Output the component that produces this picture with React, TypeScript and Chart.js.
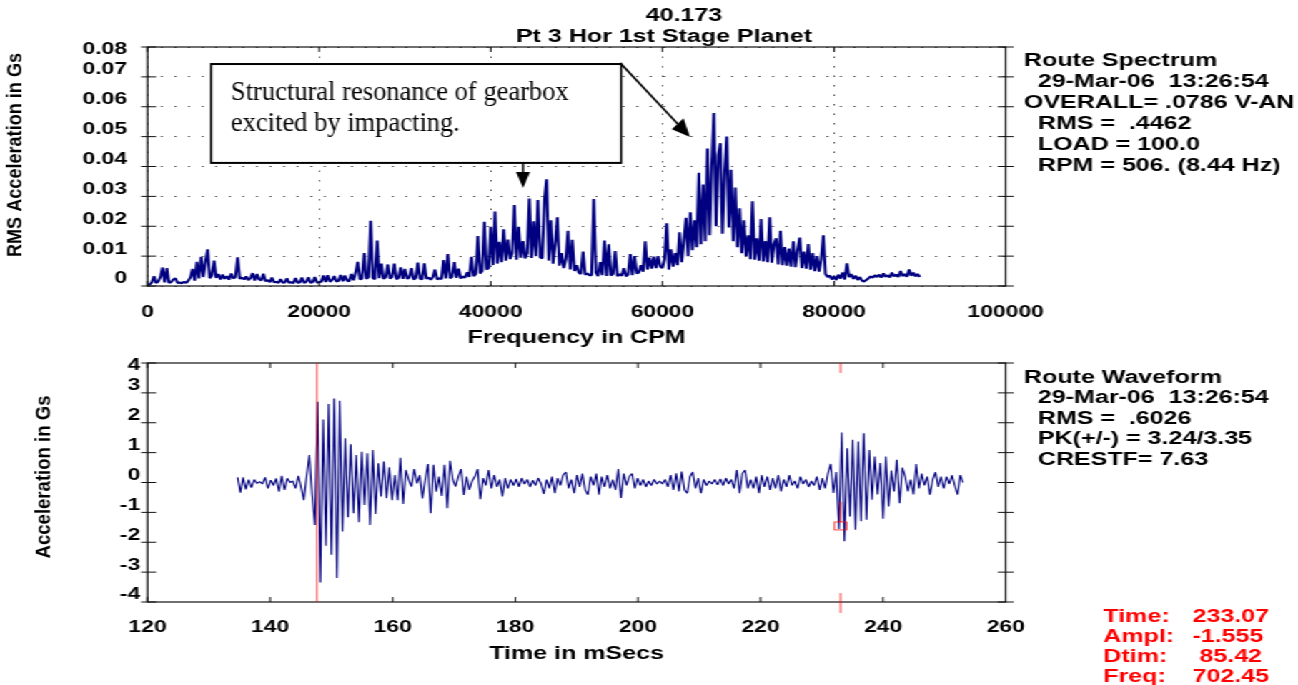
import React, { useEffect, useRef } from "react";
import { Chart, registerables } from "chart.js";

Chart.register(...registerables);

// ---------------- data ----------------
const spectrumStartCpm = 0;
const spectrumStepCpm = 250;
const spectrumRmsG = [
  0.0002, 0.0005, 0.0012, 0.0033, 0.0010, 0.0015, 0.0030, 0.0062, 0.0012, 0.0060, 0.0010, 0.0013, 0.0022, 0.0026, 0.0010, 0.0012, 0.0009, 0.0014, 0.0010, 0.0018,
  0.0029, 0.0057, 0.0018, 0.0081, 0.0025, 0.0098, 0.0030, 0.0081, 0.0123, 0.0026, 0.0035, 0.0085, 0.0027, 0.0040, 0.0022, 0.0038, 0.0024, 0.0033, 0.0021, 0.0042,
  0.0025, 0.0030, 0.0096, 0.0024, 0.0028, 0.0022, 0.0032, 0.0020, 0.0026, 0.0043, 0.0018, 0.0040, 0.0022, 0.0019, 0.0041, 0.0016, 0.0020, 0.0013, 0.0028, 0.0012,
  0.0014, 0.0010, 0.0023, 0.0011, 0.0012, 0.0026, 0.0010, 0.0013, 0.0009, 0.0027, 0.0011, 0.0012, 0.0028, 0.0010, 0.0014, 0.0029, 0.0011, 0.0013, 0.0030, 0.0012,
  0.0012, 0.0015, 0.0035, 0.0013, 0.0036, 0.0014, 0.0020, 0.0033, 0.0015, 0.0017, 0.0037, 0.0016, 0.0035, 0.0018, 0.0016, 0.0040, 0.0019, 0.0045, 0.0081, 0.0022,
  0.0025, 0.0110, 0.0024, 0.0030, 0.0218, 0.0027, 0.0023, 0.0152, 0.0026, 0.0075, 0.0024, 0.0029, 0.0072, 0.0025, 0.0030, 0.0075, 0.0023, 0.0027, 0.0062, 0.0024,
  0.0057, 0.0024, 0.0028, 0.0060, 0.0022, 0.0026, 0.0078, 0.0025, 0.0022, 0.0076, 0.0024, 0.0028, 0.0021, 0.0030, 0.0055, 0.0022, 0.0026, 0.0023, 0.0087, 0.0025,
  0.0107, 0.0026, 0.0031, 0.0080, 0.0027, 0.0058, 0.0025, 0.0032, 0.0028, 0.0046, 0.0030, 0.0098, 0.0033, 0.0040, 0.0167, 0.0042, 0.0050, 0.0215, 0.0055, 0.0060,
  0.0198, 0.0070, 0.0249, 0.0075, 0.0148, 0.0080, 0.0190, 0.0085, 0.0155, 0.0090, 0.0110, 0.0271, 0.0088, 0.0198, 0.0095, 0.0150, 0.0092, 0.0110, 0.0293, 0.0094,
  0.0217, 0.0100, 0.0288, 0.0096, 0.0092, 0.0288, 0.0357, 0.0085, 0.0220, 0.0075, 0.0140, 0.0230, 0.0068, 0.0110, 0.0060, 0.0090, 0.0185, 0.0055, 0.0155, 0.0050,
  0.0070, 0.0045, 0.0040, 0.0115, 0.0038, 0.0042, 0.0036, 0.0036, 0.0291, 0.0045, 0.0033, 0.0080, 0.0036, 0.0152, 0.0034, 0.0140, 0.0035, 0.0040, 0.0117, 0.0033,
  0.0040, 0.0034, 0.0060, 0.0032, 0.0038, 0.0107, 0.0036, 0.0100, 0.0042, 0.0045, 0.0070, 0.0048, 0.0150, 0.0055, 0.0095, 0.0058, 0.0098, 0.0060, 0.0100, 0.0065,
  0.0060, 0.0090, 0.0210, 0.0055, 0.0123, 0.0065, 0.0110, 0.0070, 0.0180, 0.0080, 0.0150, 0.0228, 0.0100, 0.0247, 0.0120, 0.0220, 0.0130, 0.0379, 0.0140, 0.0340,
  0.0150, 0.0460, 0.0170, 0.0400, 0.0579, 0.0200, 0.0438, 0.0478, 0.0175, 0.0380, 0.0500, 0.0196, 0.0389, 0.0150, 0.0330, 0.0130, 0.0260, 0.0110, 0.0220, 0.0100,
  0.0170, 0.0090, 0.0284, 0.0088, 0.0160, 0.0085, 0.0224, 0.0082, 0.0150, 0.0080, 0.0230, 0.0078, 0.0140, 0.0160, 0.0072, 0.0185, 0.0070, 0.0130, 0.0068, 0.0125,
  0.0065, 0.0150, 0.0063, 0.0120, 0.0162, 0.0060, 0.0115, 0.0058, 0.0140, 0.0055, 0.0110, 0.0050, 0.0100, 0.0048, 0.0090, 0.0170, 0.0040, 0.0030, 0.0035, 0.0022,
  0.0032, 0.0020, 0.0038, 0.0025, 0.0045, 0.0022, 0.0076, 0.0030, 0.0040, 0.0024, 0.0035, 0.0020, 0.0030, 0.0018, 0.0015, 0.0020, 0.0025, 0.0032, 0.0028, 0.0036,
  0.0030, 0.0038, 0.0028, 0.0042, 0.0031, 0.0036, 0.0029, 0.0045, 0.0032, 0.0038, 0.0030, 0.0050, 0.0033, 0.0040, 0.0031, 0.0055, 0.0034, 0.0045, 0.0032, 0.0040, 0.0030,
];

const waveformStartMs = 134.7;
const waveformStepMs = 0.45;
const waveformG = [
  0.17, -0.34, 0.17, -0.23, 0.10, -0.17, 0.10, -0.03, 0.03, -0.05, 0.17, -0.20, 0.08, -0.10, 0.14, -0.31, 0.22, -0.25, 0.14, 0.00,
  0.05, -0.20, 0.22, -0.15, -0.59, 0.20, 0.92, -0.40, -1.42, 2.70, -3.35, 2.11, -2.12, 2.63, -2.42, 2.81, -3.20, 2.74, -1.64, 1.48,
  -1.16, 1.28, -1.03, 0.92, -1.33, 1.03, -0.75, 0.98, -1.42, 1.09, -1.05, 0.64, -0.47, 0.70, -0.53, 0.51, -0.59, 0.25, -0.59, 0.83,
  -0.72, 0.42, 0.10, -0.14, 0.45, -0.03, 0.25, -0.53, 0.10, 0.62, -1.03, 0.59, -0.31, 0.20, -0.45, 0.59, -0.86, 0.73, 0.10, -0.14,
  0.20, 0.45, -0.42, 0.20, -0.25, 0.05, 0.20, 0.45, -0.56, 0.15, -0.10, 0.42, -0.20, 0.25, -0.15, 0.10, -0.47, 0.15, -0.20, 0.10,
  -0.10, 0.12, -0.15, 0.15, -0.05, 0.10, -0.15, 0.08, -0.10, 0.15, -0.05, -0.38, 0.10, -0.20, 0.20, -0.36, 0.15, -0.10, 0.25, 0.35,
  -0.20, 0.10, -0.36, 0.25, -0.15, 0.30, -0.25, -0.41, 0.20, -0.10, 0.30, -0.41, 0.20, -0.15, 0.25, -0.20, 0.10, -0.25, 0.45, -0.52,
  0.30, -0.10, 0.20, 0.30, -0.20, 0.15, -0.10, 0.10, -0.15, 0.05, -0.10, 0.10, -0.05, 0.05, -0.05, 0.10, -0.15, 0.25, -0.25, 0.31,
  -0.30, 0.37, -0.25, -0.36, 0.20, 0.35, -0.20, 0.15, -0.36, 0.10, -0.10, 0.05, -0.05, 0.10, -0.08, 0.12, -0.10, 0.15, -0.05, 0.10,
  -0.20, 0.42, -0.36, 0.30, 0.42, -0.20, 0.10, -0.20, 0.20, -0.36, 0.25, -0.15, 0.20, -0.25, 0.15, -0.20, 0.25, -0.30, 0.10, -0.15,
  0.25, -0.10, 0.05, -0.20, 0.20, -0.05, 0.10, -0.15, 0.05, -0.10, 0.20, -0.25, 0.15, -0.20, 0.30, 0.62, -0.35, 0.35, -1.56, 1.67,
  -1.97, 1.15, -1.14, 1.43, -1.58, 1.37, -1.30, 1.65, -1.25, 1.09, -0.58, 0.87, -0.40, 0.65, -1.21, 0.87, -0.80, 0.40, -0.30, 0.76,
  -0.69, 0.50, 0.20, -0.30, 0.10, -0.40, 0.62, -0.20, 0.30, -0.10, 0.20, -0.41, 0.10, 0.35, -0.15, 0.20, -0.20, 0.20, -0.05, 0.25,
  -0.10, -0.41, 0.25, 0.00,
];

const freqTicksCpm = [0, 20000, 40000, 60000, 80000, 100000];
const rmsTicksG = [0, 0.01, 0.02, 0.03, 0.04, 0.05, 0.06, 0.07, 0.08];
const timeTicksMs = [120, 140, 160, 180, 200, 220, 240, 260];
const accelTicksG = [-4, -3, -2, -1, 0, 1, 2, 3, 4];

const plotTitle = ["40.173", "Pt 3 Hor 1st Stage Planet"];
const spectrumInfo = [
  "Route Spectrum",
  "  29-Mar-06  13:26:54",
  "OVERALL= .0786 V-AN",
  "  RMS =  .4462",
  "  LOAD = 100.0",
  "  RPM = 506. (8.44 Hz)",
];
const waveformInfo = [
  "Route Waveform",
  "  29-Mar-06  13:26:54",
  "  RMS =  .6026",
  "  PK(+/-) = 3.24/3.35",
  "  CRESTF= 7.63",
];
const cursorLabels = ["Time:", "Ampl:", "Dtim:", "Freq:"];
const cursorValues = ["233.07", "-1.555", " 85.42", "702.45"];
const cursorTimeMs = 233.07;
const cursorAmplG = -1.555;
const cursorDtimMs = 85.42;
const annotationLines = ["Structural resonance of gearbox", "excited by impacting."];

// ---------------- layout / style ----------------
const CW = 908;
const CH = 685;
const S = 1298 / CW; // the picture is stretched horizontally
const SANS = '"Liberation Sans", Arial, sans-serif';
const SERIF = '"Liberation Serif", "Times New Roman", serif';
const NAVY = "#000080";
const annotationLayout = {
  box: { cpm0: 7400, g0: 0.0743, cpm1: 55200, g1: 0.0412 },
  downTip: { cpm: 43760, g: 0.0328 },
  diagTip: { cpm: 63220, g: 0.0499 },
};

function drawFrame(ctx: any, a: any, xs: any, ys: any) {
  ctx.save();
  ctx.strokeStyle = "#111";
  ctx.lineWidth = 1.2;
  ctx.strokeRect(a.left, a.top, a.right - a.left, a.bottom - a.top);
  ctx.lineWidth = 1;
  ctx.beginPath();
  xs.ticks.forEach((t: any) => {
    const px = xs.getPixelForValue(t.value);
    ctx.moveTo(px, a.bottom);
    ctx.lineTo(px, a.bottom - 5);
    ctx.moveTo(px, a.top);
    ctx.lineTo(px, a.top + 5);
  });
  ys.ticks.forEach((t: any) => {
    const py = ys.getPixelForValue(t.value);
    ctx.moveTo(a.left - 4.5, py);
    ctx.lineTo(a.left + 6, py);
    ctx.moveTo(a.right - 5.6, py);
    ctx.lineTo(a.right + 5.6, py);
  });
  ctx.stroke();
  ctx.restore();
}

function drawRotatedTitle(ctx: any, text: string, pageX: number, centerY: number, maxW: number) {
  ctx.save();
  ctx.scale(1 / S, 1);
  ctx.translate(pageX, centerY);
  ctx.rotate(-Math.PI / 2);
  ctx.font = `bold 21px ${SANS}`;
  ctx.textAlign = "center";
  ctx.textBaseline = "middle";
  ctx.fillStyle = "#000";
  ctx.fillText(text, 0, 0, maxW);
  ctx.restore();
}

function drawArrow(ctx: any, x1: number, y1: number, x2: number, y2: number, len: number, half: number) {
  const ang = Math.atan2(y2 - y1, x2 - x1);
  const bx = x2 - len * Math.cos(ang);
  const by = y2 - len * Math.sin(ang);
  ctx.beginPath();
  ctx.moveTo(x1, y1);
  ctx.lineTo(bx, by);
  ctx.stroke();
  ctx.beginPath();
  ctx.moveTo(x2, y2);
  ctx.lineTo(bx + half * Math.sin(ang), by - half * Math.cos(ang));
  ctx.lineTo(bx - half * Math.sin(ang), by + half * Math.cos(ang));
  ctx.closePath();
  ctx.fill();
}

const topDecor = {
  id: "topDecor",
  afterDraw(chart: any) {
    const { ctx, chartArea: a } = chart;
    const xs = chart.scales.x;
    const ys = chart.scales.y;
    drawFrame(ctx, a, xs, ys);

    ctx.save();
    ctx.fillStyle = "#000";
    ctx.font = `bold 17.5px ${SANS}`;
    ctx.textBaseline = "alphabetic";
    ctx.textAlign = "center";
    ctx.fillText(plotTitle[0], 684 / S, 20.7);
    ctx.fillText(plotTitle[1], 664 / S, 41.7);
    ctx.textAlign = "left";
    spectrumInfo.forEach((line, i) => ctx.fillText(line, 1024 / S, 66 + 21 * i));
    ctx.restore();

    drawRotatedTitle(ctx, "RMS Acceleration in Gs", 15.8, 155, 204);

    // annotation (not stretched): draw in page coordinates
    const L = annotationLayout;
    const px = (cpm: number) => xs.getPixelForValue(cpm) * S;
    const py = (g: number) => ys.getPixelForValue(g);
    const bx0 = px(L.box.cpm0), by0 = py(L.box.g0), bx1 = px(L.box.cpm1), by1 = py(L.box.g1);
    ctx.save();
    ctx.scale(1 / S, 1);
    ctx.fillStyle = "#fff";
    ctx.fillRect(bx0, by0, bx1 - bx0, by1 - by0);
    ctx.strokeStyle = "#000";
    ctx.lineWidth = 2;
    ctx.strokeRect(bx0, by0, bx1 - bx0, by1 - by0);
    ctx.fillStyle = "#000";
    ctx.font = `26.5px ${SERIF}`;
    ctx.textAlign = "left";
    ctx.textBaseline = "alphabetic";
    ctx.fillText(annotationLines[0], bx0 + 20, by0 + 35.5);
    ctx.fillText(annotationLines[1], bx0 + 20, by0 + 66.5);
    ctx.lineWidth = 2;
    const dTipX = px(L.downTip.cpm), dTipY = py(L.downTip.g);
    drawArrow(ctx, dTipX, by1, dTipX, dTipY, 16, 7);
    drawArrow(ctx, bx1 - 1, by0 - 1, px(L.diagTip.cpm), py(L.diagTip.g), 18, 8);
    ctx.restore();
  },
};

const bottomDecor = {
  id: "bottomDecor",
  afterDraw(chart: any) {
    const { ctx, chartArea: a } = chart;
    const xs = chart.scales.x;
    const ys = chart.scales.y;
    drawFrame(ctx, a, xs, ys);

    // cursors
    ctx.save();
    ctx.strokeStyle = "#ff0000";
    ctx.lineWidth = 0.75;
    const x1 = xs.getPixelForValue(cursorTimeMs - cursorDtimMs);
    const x2 = xs.getPixelForValue(cursorTimeMs);
    const ya = ys.getPixelForValue(cursorAmplG);
    ctx.beginPath();
    ctx.moveTo(x1, a.top);
    ctx.lineTo(x1, a.bottom);
    ctx.moveTo(x2, a.top);
    ctx.lineTo(x2, a.top + 10);
    ctx.moveTo(x2, a.bottom - 9);
    ctx.lineTo(x2, a.bottom + 11);
    ctx.moveTo(x2, ys.getPixelForValue(-0.65));
    ctx.lineTo(x2, ya - 7);
    ctx.stroke();
    ctx.strokeRect(x2 - 4.2, ya - 7, 8.4, 8);
    ctx.restore();

    ctx.save();
    ctx.fillStyle = "#000";
    ctx.font = `bold 17.5px ${SANS}`;
    ctx.textAlign = "left";
    ctx.textBaseline = "alphabetic";
    waveformInfo.forEach((line, i) => ctx.fillText(line, 1024 / S, 382.5 + 20.5 * i));
    ctx.fillStyle = "#ff0000";
    cursorLabels.forEach((lab, i) => {
      ctx.fillText(lab, 1103.4 / S, 621.7 + 20 * i);
      ctx.fillText(cursorValues[i], 1192.5 / S, 621.7 + 20 * i);
    });
    ctx.restore();

    drawRotatedTitle(ctx, "Acceleration in Gs", 44, 477, 163);
  },
};

const tickFont = { family: SANS, size: 16, weight: "bold" as const };
const titleFont = { family: SANS, size: 17.5, weight: "bold" as const };

function topConfig(): any {
  const points = spectrumRmsG.map((v, i) => ({ x: spectrumStartCpm + i * spectrumStepCpm, y: v }));
  return {
    type: "line",
    data: {
      datasets: [
        {
          data: points,
          borderColor: NAVY,
          borderWidth: 2,
          borderJoinStyle: "bevel",
          pointRadius: 0,
          fill: false,
          tension: 0,
        },
      ],
    },
    options: {
      responsive: false,
      animation: false,
      devicePixelRatio: 1,
      events: [],
      parsing: false,
      layout: { padding: { left: 0, right: CW - 703.5, top: 47, bottom: CH - 286 - 62.5 } },
      plugins: { legend: { display: false }, tooltip: { enabled: false }, title: { display: false } },
      scales: {
        x: {
          type: "linear",
          min: 0,
          max: 100000,
          afterFit: (s: any) => { s.height = 62.5; },
          afterBuildTicks: (s: any) => { s.ticks = freqTicksCpm.map((v) => ({ value: v })); },
          ticks: {
            font: tickFont,
            color: "#000",
            padding: 17.2,
            maxRotation: 0,
            minRotation: 0,
            autoSkip: false,
            callback: (v: any) => String(v),
          },
          grid: { color: "#555", lineWidth: 1, drawTicks: false },
          border: { display: false, dash: [1.5, 8] },
          title: { display: true, text: "Frequency in CPM", font: titleFont, color: "#000", padding: { top: 0, bottom: 0 } },
        },
        y: {
          type: "linear",
          min: 0,
          max: 0.08,
          afterFit: (s: any) => { s.width = 103.2; },
          afterBuildTicks: (s: any) => { s.ticks = rmsTicksG.map((v) => ({ value: v })); },
          ticks: {
            font: tickFont,
            color: "#000",
            padding: 14.3,
            labelOffset: -7,
            autoSkip: false,
            callback: (v: any) => {
              if (Math.abs(v) < 1e-9) return "0";
              const s = Number(v).toFixed(2);
              return Math.abs(v - 0.08) < 1e-9 ? ["", s] : s;
            },
          },
          grid: { color: "#555", lineWidth: 1, drawTicks: false },
          border: { display: false, dash: [1.5, 8] },
        },
      },
    },
    plugins: [topDecor],
  };
}

function bottomConfig(): any {
  const points = waveformG.map((v, i) => ({ x: waveformStartMs + i * waveformStepMs, y: v }));
  return {
    type: "line",
    data: {
      datasets: [
        {
          data: points,
          borderColor: NAVY,
          borderWidth: 1.1,
          borderJoinStyle: "bevel",
          pointRadius: 0,
          fill: false,
          tension: 0,
        },
      ],
    },
    options: {
      responsive: false,
      animation: false,
      devicePixelRatio: 1,
      events: [],
      parsing: false,
      layout: { padding: { left: 0, right: CW - 703.5, top: 363, bottom: CH - 602 - 62.5 } },
      plugins: { legend: { display: false }, tooltip: { enabled: false }, title: { display: false } },
      scales: {
        x: {
          type: "linear",
          min: 120,
          max: 260,
          afterFit: (s: any) => { s.height = 62.5; },
          afterBuildTicks: (s: any) => { s.ticks = timeTicksMs.map((v) => ({ value: v })); },
          ticks: {
            font: tickFont,
            color: "#000",
            padding: 16.2,
            maxRotation: 0,
            minRotation: 0,
            autoSkip: false,
            callback: (v: any) => String(v),
          },
          grid: { display: false, drawTicks: false },
          border: { display: false },
          title: { display: true, text: "Time in mSecs", font: titleFont, color: "#000", padding: { top: 0, bottom: 0 } },
        },
        y: {
          type: "linear",
          min: -4,
          max: 4,
          afterFit: (s: any) => { s.width = 103.2; },
          afterBuildTicks: (s: any) => { s.ticks = accelTicksG.map((v) => ({ value: v })); },
          ticks: {
            font: tickFont,
            color: "#000",
            padding: 5.1,
            labelOffset: -7,
            autoSkip: false,
            callback: (v: any) => (v === 4 ? ["", "4"] : String(v)),
          },
          grid: { display: false, drawTicks: false },
          border: { display: false },
        },
      },
    },
    plugins: [bottomDecor],
  };
}

export default function App() {
  const topRef = useRef<HTMLCanvasElement>(null);
  const botRef = useRef<HTMLCanvasElement>(null);
  useEffect(() => {
    const c1 = new Chart(topRef.current as HTMLCanvasElement, topConfig());
    const c2 = new Chart(botRef.current as HTMLCanvasElement, bottomConfig());
    return () => {
      c1.destroy();
      c2.destroy();
    };
  }, []);
  return (
    <div style={{ position: "absolute", left: 0, top: 0, width: 1298, height: 685, overflow: "hidden", background: "#fff" }}>
      <div
        style={{
          position: "absolute",
          left: 0,
          top: 0,
          width: CW,
          height: CH,
          transform: `scaleX(${S})`,
          transformOrigin: "0 0",
        }}
      >
        <canvas ref={topRef} width={CW} height={CH} style={{ position: "absolute", left: 0, top: 0 }} />
        <canvas ref={botRef} width={CW} height={CH} style={{ position: "absolute", left: 0, top: 0 }} />
      </div>
    </div>
  );
}
